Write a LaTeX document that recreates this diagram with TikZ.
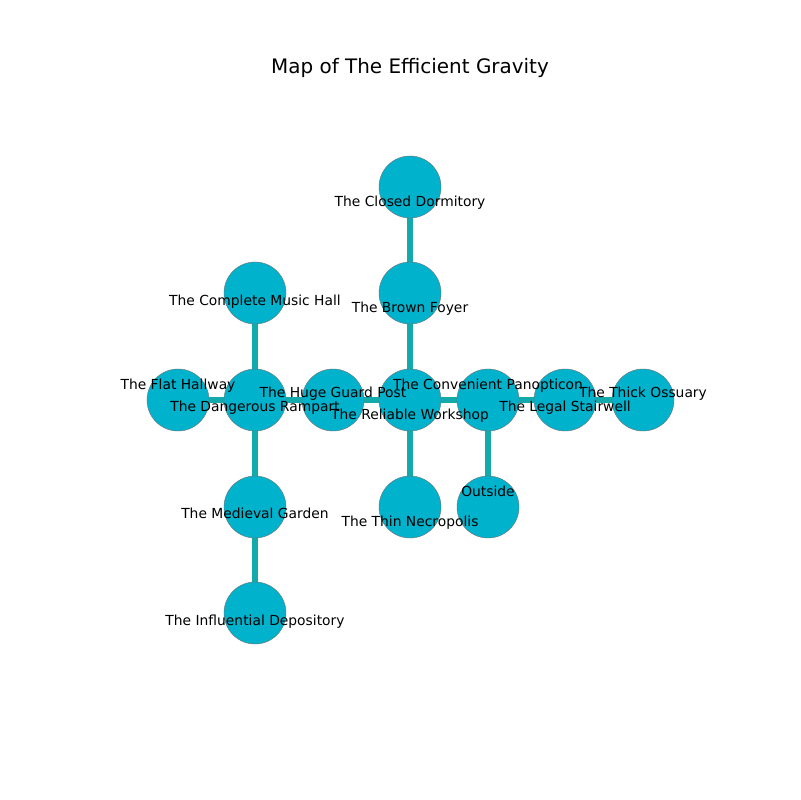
\documentclass[tikz,border=0pt]{standalone}
\usepackage{fontspec}
\setmainfont{DejaVu Sans}
\usetikzlibrary{backgrounds}
\definecolor{roomfill}{HTML}{00B2CC}
\definecolor{passage}{HTML}{12AAAA}
\begin{document}
\begin{tikzpicture}[x=0.01in,y=-0.01in]

% rooms and passages
\tikzset{
    room/.style={circle, fill=roomfill, draw=black!55, line width=0.3pt,
        minimum size=0.62in, inner sep=0pt},
    roomname/.style={font=\fontsize{10}{12}\selectfont, inner sep=0pt},
    passage/.style={draw=passage, line width=4pt}
}

\useasboundingbox (0,0) rectangle (800,800);
\node[font=\fontsize{14.4}{17}\selectfont] (title) at (410,68) {Map of The Efficient Gravity};

\node[room] (dorm) at (410,187) {};
\node[room] (foyer) at (410,293) {};
\node[room] (music) at (255,293) {};
\node[room] (flat) at (178,400) {};
\node[room] (rampart) at (255,400) {};
\node[room] (guard) at (333,400) {};
\node[room] (workshop) at (410,400) {};
\node[room] (panopticon) at (488,400) {};
\node[room] (stairwell) at (565,400) {};
\node[room] (ossuary) at (643,400) {};
\node[room] (garden) at (255,507) {};
\node[room] (depository) at (255,613) {};
\node[room] (necropolis) at (410,507) {};
\node[room] (outside) at (488,507) {};

\begin{scope}[on background layer]
\draw[passage] (dorm) -- (foyer);
\draw[passage] (foyer) -- (workshop);
\draw[passage] (music) -- (rampart);
\draw[passage] (flat) -- (rampart);
\draw[passage] (rampart) -- (guard);
\draw[passage] (guard) -- (workshop);
\draw[passage] (workshop) -- (panopticon);
\draw[passage] (panopticon) -- (stairwell);
\draw[passage] (stairwell) -- (ossuary);
\draw[passage] (rampart) -- (garden);
\draw[passage] (garden) -- (depository);
\draw[passage] (workshop) -- (necropolis);
\draw[passage] (panopticon) -- (outside);
\end{scope}

% labels
\node[roomname] (dorm-l) at (410,203) {The Closed Dormitory};
\node[roomname] (foyer-l) at (410,309) {The Brown Foyer};
\node[roomname] (music-l) at (255,302) {The Complete Music Hall};
\node[roomname] (flat-l) at (178,386) {The Flat Hallway};
\node[roomname] (rampart-l) at (255,408) {The Dangerous Rampart};
\node[roomname] (guard-l) at (333,394) {The Huge Guard Post};
\node[roomname] (workshop-l) at (410,416) {The Reliable Workshop};
\node[roomname] (panopticon-l) at (488,386) {The Convenient Panopticon};
\node[roomname] (stairwell-l) at (565,408) {The Legal Stairwell};
\node[roomname] (ossuary-l) at (643,394) {The Thick Ossuary};
\node[roomname] (garden-l) at (255,513) {The Medieval Garden};
\node[roomname] (depository-l) at (255,622) {The Influential Depository};
\node[roomname] (necropolis-l) at (410,523) {The Thin Necropolis};
\node[roomname] (outside-l) at (488,491) {Outside};

\end{tikzpicture}
\end{document}
